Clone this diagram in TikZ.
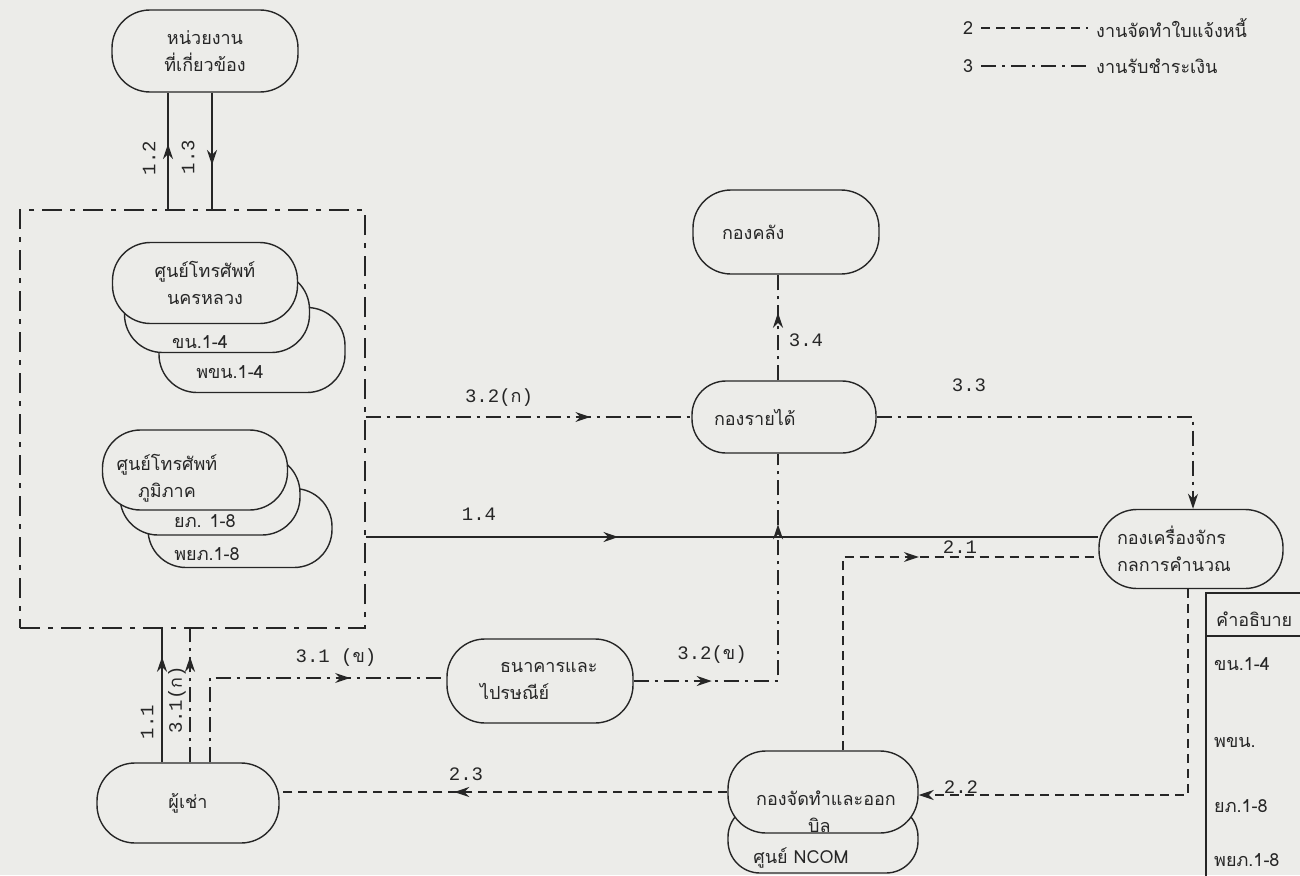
\documentclass[tikz,border=0pt]{standalone}
\usepackage{fontspec}
\setmainfont[Script=Thai]{Loma}
\newfontfamily\typefont{Liberation Mono}
\usetikzlibrary{arrows.meta,positioning,decorations.markings}
\definecolor{paper}{RGB}{236,236,233}
\definecolor{ink}{RGB}{38,38,38}
\newcommand{\thch}[1]{{\rmfamily\fontsize{18}{20}\selectfont #1}}

\begin{document}
\begin{tikzpicture}[x=1pt, y=-1pt,
  stad/.style={rectangle, rounded corners=38pt, draw=ink, line width=1.4pt, fill=paper,
    minimum width=184pt, minimum height=80pt, inner sep=0pt, align=center,
    font=\fontsize{18}{27}\selectfont, text=ink},
  lbl/.style={font=\typefont\fontsize{19}{20}\selectfont, text=ink, inner sep=1pt},
  txt/.style={font=\fontsize{18}{27}\selectfont, text=ink, inner sep=0pt},
  line1/.style={draw=ink, line width=1.4pt},
  line2/.style={line1, dash pattern=on 9pt off 6pt},
  line3/.style={line1, dash pattern=on 15pt off 6pt on 3pt off 6pt},
  grpbox/.style={draw=ink, line width=1.4pt, dash pattern=on 20pt off 8pt on 5pt off 8pt},
  arr/.style={-{Stealth[length=15pt, width=10pt]}},
  midarr/.style={postaction={decorate, decoration={markings,
    mark=at position #1 with {\arrow{Stealth[length=15pt, width=10pt]}}}}}
]
\clip (0,0) rectangle (1300,875);
\fill[paper] (0,0) rectangle (1300,875);

% legend
\node[txt, anchor=west, inner xsep=8pt] (key2) at (955,28) {2};
\node[txt, anchor=west, inner xsep=8pt] (key2t) at (1088,28) {งานจัดทำใบแจ้งหนี้};
\node[txt, anchor=west, inner xsep=8pt] (key3) at (955,66) {3};
\node[txt, anchor=west, inner xsep=8pt] (key3t) at (1088,66) {งานรับชำระเงิน};
\draw[line2] (key2) -- (key2t);
\draw[line3] (key3) -- (key3t);

% outside units
\node[stad, minimum width=186pt, minimum height=82pt] (unit) at (205,51) {หน่วยงาน\\ที่เกี่ยวข้อง};
\node[grpbox, minimum width=345pt, minimum height=418pt, inner sep=0pt] (grp) at (192.5,419) {};

\node[stad, minimum width=186pt, minimum height=85pt] (mea3) at (252,350) {};
\node[stad, minimum width=185pt, minimum height=81pt] (mea2) at (217,312) {};
\node[stad, minimum width=185pt, minimum height=81pt] (mea) at (205,283) {ศูนย์โทรศัพท์\\นครหลวง};
\node[txt] (mea2t) at (200,342) {ขน.1-4};
\node[txt] (mea3t) at (230,372) {พขน.1-4};

\node[stad, minimum height=79pt] (pea3) at (240,528) {};
\node[stad, minimum width=180pt] (pea2) at (210,495) {};
\node[stad, minimum width=185pt] (pea) at (195,470) {};
\node[txt, align=center] (peat) at (167,478) {ศูนย์โทรศัพท์\\ภูมิภาค};
\node[txt] (pea2t) at (205,521) {ยภ. 1-8};
\node[txt] (pea3t) at (207,554) {พยภ.1-8};

\node[stad, minimum width=182pt] (tenant) at (188,803) {ผู้เช่า};
\node[stad, minimum width=186pt, minimum height=84pt, text width=120pt, align=left] (bank) at (540,681) {\hspace*{20pt}ธนาคารและ\\ไปรษณีย์};
\node[stad, minimum width=186pt, minimum height=84pt, text width=128pt, align=left] (treas) at (786,232) {กองคลัง};
\node[stad, minimum width=184pt, minimum height=72pt, rounded corners=34pt, text width=140pt, align=left] (rev) at (784,417) {กองรายได้};
\node[stad, minimum width=184pt, minimum height=79pt, text width=148pt, align=left] (comp) at (1191,549) {กองเครื่องจักร\\กลการคำนวณ};
\node[stad, minimum width=190pt, minimum height=68pt, rounded corners=32pt] (ncom) at (823,839) {};
\node[stad, minimum width=190pt, minimum height=82pt] (bill) at (823,792) {};
\node[txt, align=left] (billt) at (826,812) {กองจัดทำและออก\\\hspace*{52pt}บิล};
\node[txt] (ncomt) at (801,858) {ศูนย์ NCOM};

% table
\draw[line1] (1320,593) -- (1206,593) -- (1206,890);
\draw[line1] (1206,636) -- (1320,636);
\node[txt, anchor=west] (tabhead) at (1216,619) {คำอธิบาย};
\node[txt, anchor=west] (tabr1) at (1214,664) {ขน.1-4};
\node[txt, anchor=west] (tabr2) at (1214,742) {พขน.};
\node[txt, anchor=west] (tabr3) at (1214,806) {ยภ.1-8};
\node[txt, anchor=west] (tabr4) at (1214,860) {พยภ.1-8};

% corners
\coordinate (c12) at (168,0);
\coordinate (c13) at (212,0);
\coordinate (c11) at (162,0);
\coordinate (c31a) at (190,0);
\coordinate (c31b) at (210,678);
\coordinate (c14) at (0,537);
\coordinate (c32b) at (778,681);
\coordinate (c33) at (1193,417);
\coordinate (c21) at (843,557);
\coordinate (c22) at (1188,795);

\draw[line1, midarr=0.56] (grp.north -| c12) -- (unit.south -| c12);
\draw[line1, midarr=0.62] (unit.south -| c13) -- (grp.north -| c13);
\draw[line1, midarr=0.79] (tenant.north -| c11) -- (grp.south -| c11);
\draw[line3, midarr=0.79] (tenant.north -| c31a) -- (grp.south -| c31a);
\draw[line3, midarr=0.70] (tenant.north -| c31b) -- (c31b) -- (bank.west |- c31b);
\draw[line3, midarr=0.69] (grp.east |- rev.west) -- (rev.west);
\draw[line1, midarr=0.345] (grp.east |- c14) -- (comp.west |- c14);
\draw[line3, midarr=0.21, midarr=0.81] (bank.east) -- (c32b) -- (rev.south -| c32b);
\draw[line3, midarr=0.64] (rev.north -| c32b) -- (treas.south -| c32b);
\draw[line3, arr] (rev.east) -- (c33) -- (comp.north -| c33);
\draw[line2, midarr=0.60] (bill.north -| c21) -- (c21) -- (comp.west |- c21);
\draw[line2, arr] (comp.south -| c22) -- (c22) -- (bill.east |- c22);
\draw[line2, midarr=0.61] (bill.west) -- (tenant.east |- bill.west);

% flow labels
\node[lbl, rotate=90] (l12) at (149,158) {1.2};
\node[lbl, rotate=90] (l13) at (188,157) {1.3};
\node[lbl, rotate=90] (l11) at (147,722) {1.1};
\node[lbl, rotate=90] (l31a) at (177,700) {3.1(\thch{ก})};
\node[lbl] (l31b) at (336,658) {3.1 (\thch{ข})};
\node[lbl] (l32a) at (499,398) {3.2(\thch{ก})};
\node[lbl] (l14) at (479,514) {1.4};
\node[lbl] (l32b) at (712,655) {3.2(\thch{ข})};
\node[lbl] (l34) at (806,340) {3.4};
\node[lbl] (l33) at (969,385) {3.3};
\node[lbl] (l21) at (960,547) {2.1};
\node[lbl] (l22) at (961,787) {2.2};
\node[lbl] (l23) at (466,774) {2.3};
\end{tikzpicture}
\end{document}
